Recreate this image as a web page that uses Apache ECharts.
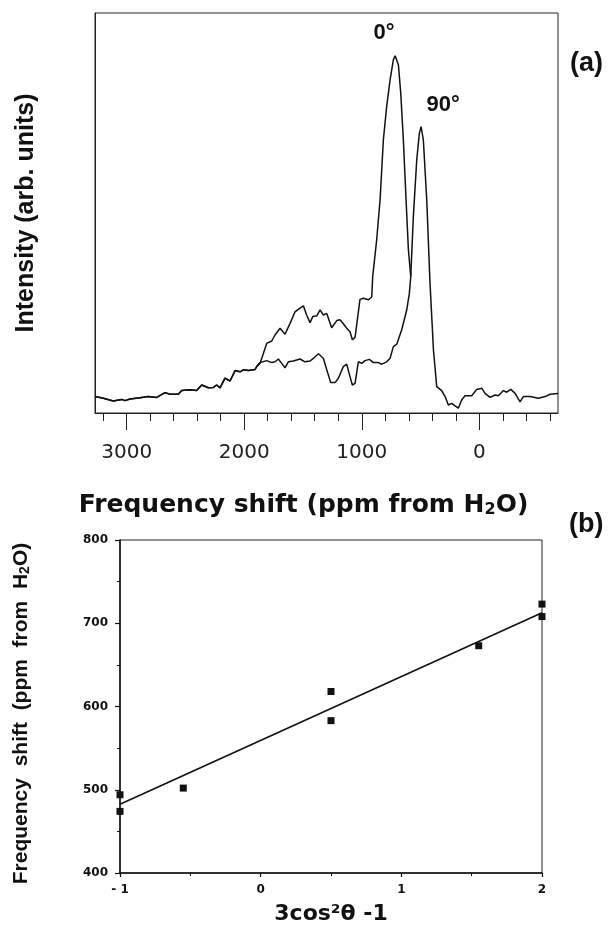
<!DOCTYPE html>
<html>
<head>
<meta charset="utf-8">
<script src="https://cdn.jsdelivr.net/npm/echarts@6/dist/echarts.min.js"></script>
<style>html,body{margin:0;padding:0;background:#fff}#c{width:608px;height:926px}</style>
</head>
<body>
<div id="c"></div>
<script>
// ---- Panel (a): NMR spectra (shift in ppm from H2O, intensity in arb. units) ----
// common low-field baseline shared by both spectra
const baseShift = [3270,3199,3114,3043,3015,2972,2887,2816,2745,2674,2632,2561,2532,2461,2405,2362,2305,2263,2235,2206,2164,2121,2078,2036,2008,1965,1908,1894];
const baseInt   = [4.1,3.7,3.0,3.4,3.1,3.5,3.8,4.1,3.9,5.1,4.7,4.7,5.6,5.8,5.6,7.0,6.3,6.4,7.0,6.3,8.7,8.0,10.6,10.3,10.8,10.6,10.9,11.6];
// 0 degree spectrum (continues from baseline)
const shift0 = [1866,1809,1766,1738,1695,1653,1610,1568,1540,1497,1469,1440,1417,1383,1355,1327,1298,1256,1213,1185,1157,1128,1100,1080,1057,1015,986,944,915,907,873,844,816,788,759,731,716,688,668,646,623,603,583];
const int0   = [12.4,17.4,18.0,19.5,21.2,19.7,22.4,25.3,25.9,26.8,24.5,22.6,24.1,24.3,25.8,24.5,24.9,21.3,23.1,23.3,22.3,21.2,20.3,18.3,18.9,28.4,28.7,28.3,29.0,34.1,43.3,53.3,68.3,76.6,83.3,88.3,89.3,87.0,79.9,68.3,53.3,40.8,34.1];
// 90 degree spectrum (continues from baseline)
const shift90 = [1866,1809,1766,1738,1710,1681,1653,1625,1582,1525,1483,1440,1406,1369,1327,1298,1264,1227,1199,1157,1128,1100,1080,1057,1029,1000,972,935,901,859,830,788,759,731,702,660,617,595,583,561,532,510,495,476,447,419,390,362,320,291,263,234,206,178,149,121,64,22,-21,-49,-92,-134,-163,-205,-234,-268,-305,-347,-375,-432,-503,-560,-603,-670];
const int90   = [12.6,13.1,12.6,12.8,13.5,12.4,11.3,12.8,13.0,13.5,12.8,13.0,13.8,14.8,13.7,10.8,7.6,7.6,8.7,11.6,12.2,9.1,7.0,7.4,12.8,12.4,13.1,13.4,12.6,12.6,12.2,12.8,13.7,16.6,17.2,20.8,25.8,29.9,34.1,49.1,63.3,69.9,71.6,68.3,53.3,32.4,15.8,6.6,5.6,4.1,2.0,2.4,1.8,1.2,3.3,4.3,4.3,5.9,6.2,4.9,3.9,4.5,4.3,5.6,5.2,5.9,4.9,2.8,4.1,4.1,3.7,4.1,4.7,4.9];
const majorTicksA = [3000, 2000, 1000, 0];
const minorTicksA = [3200,3000,2800,2600,2400,2200,2000,1800,1600,1400,1200,1000,800,600,400,200,0,-200,-400,-600];
const peakLabels = [{text:'0°', at:[810, 95]}, {text:'90°', at:[308, 77]}];

// ---- Panel (b): shift vs 3cos^2(theta)-1 ----
const angleFactor = [-1, -1, -0.55, 0.5, 0.5, 1.55, 2, 2];
const shiftPpm    = [494, 474, 502, 618, 583, 673, 723, 708];
const fitX = [-1, 2];
const fitY = [482.5, 712.7];

const zip = (a, b) => a.map((v, i) => [v, b[i]]);
const trace0 = zip(baseShift.concat(shift0), baseInt.concat(int0));
const trace90 = zip(baseShift.concat(shift90), baseInt.concat(int90));

const ink = '#111';
const chart = echarts.init(document.getElementById('c'), null, {renderer: 'canvas'});

const subRich = (size, family) => ({
  t: {fontFamily: family, fontWeight: 'bold', fontSize: size, color: ink},
  s: {fontFamily: family, fontWeight: 'bold', fontSize: Math.round(size * 0.65), color: ink, padding: [Math.round(size * 0.4), 0, 0, 0]}
});

chart.setOption({
  animation: false,
  backgroundColor: '#fff',
  grid: [
    {left: 95, top: 13, width: 463, height: 400, show: true, borderColor: '#222', borderWidth: 1},
    {left: 120, top: 540, width: 422, height: 336, show: true, borderColor: '#222', borderWidth: 1}
  ],
  xAxis: [
    {
      type: 'value', gridIndex: 0, min: -670, max: 3270, inverse: true, position: 'bottom',
      axisLine: {show: true, onZero: false, lineStyle: {color: '#222', width: 1}},
      axisTick: {show: true, customValues: majorTicksA, length: 17, lineStyle: {color: '#222', width: 1}},
      axisLabel: {show: true, customValues: majorTicksA, margin: 30, fontFamily: 'DejaVu Sans', fontSize: 20, color: '#222',
        formatter: v => String(v)},
      splitLine: {show: false},
      name: '{t|Frequency shift (ppm from H}{s|2}{t|O)}',
      nameLocation: 'middle', nameGap: 79,
      nameTextStyle: {rich: subRich(25, 'DejaVu Sans'), padding: [0, 46, 0, 0]}
    },
    {
      type: 'value', gridIndex: 0, min: -670, max: 3270, inverse: true, position: 'bottom',
      axisLine: {show: false, onZero: false},
      axisTick: {show: true, customValues: minorTicksA, length: 8, lineStyle: {color: '#222', width: 1}},
      axisLabel: {show: false},
      splitLine: {show: false}
    },
    {
      type: 'value', gridIndex: 1, min: -1, max: 2, interval: 1,
      axisLine: {show: true, onZero: false, lineStyle: {color: ink, width: 1.5}},
      axisTick: {show: true, length: 4, lineStyle: {color: ink, width: 1.2}},
      minorTick: {show: true, splitNumber: 2, length: 3, lineStyle: {color: ink, width: 1}},
      axisLabel: {margin: 11, fontFamily: 'DejaVu Sans', fontWeight: 'bold', fontSize: 12, color: ink,
        formatter: v => (v < 0 ? '- ' + Math.abs(v) : String(v))},
      splitLine: {show: false},
      name: '3cos²θ -1', nameLocation: 'middle', nameGap: 30,
      nameTextStyle: {fontFamily: 'DejaVu Sans', fontWeight: 'bold', fontSize: 22, color: ink}
    }
  ],
  yAxis: [
    {
      type: 'value', gridIndex: 0, min: 0, max: 100,
      axisLine: {show: true, onZero: false, lineStyle: {color: '#222', width: 1}},
      axisTick: {show: false}, axisLabel: {show: false}, splitLine: {show: false},
      name: 'Intensity (arb. units)', nameLocation: 'middle', nameGap: 56,
      nameTextStyle: {fontFamily: 'Liberation Sans', fontWeight: 'bold', fontSize: 25, color: ink}
    },
    {
      type: 'value', gridIndex: 1, min: 400, max: 800, interval: 100,
      axisLine: {show: true, onZero: false, lineStyle: {color: ink, width: 1.5}},
      axisTick: {show: true, length: 5, lineStyle: {color: ink, width: 1.2}},
      minorTick: {show: true, splitNumber: 2, length: 3, lineStyle: {color: ink, width: 1}},
      axisLabel: {margin: 12, fontFamily: 'DejaVu Sans', fontWeight: 'bold', fontSize: 12, color: ink},
      splitLine: {show: false},
      name: '{t|Frequency  shift  (ppm  from  H}{s|2}{t|O)}',
      nameLocation: 'middle', nameGap: 88,
      nameTextStyle: {rich: subRich(21, 'Liberation Sans'), padding: [0, 14, 0, 0]}
    }
  ],
  series: [
    {
      type: 'line', xAxisIndex: 0, yAxisIndex: 0, data: trace0, showSymbol: false, symbol: 'none',
      lineStyle: {color: ink, width: 1.5}, smooth: false,
      markPoint: {symbol: 'circle', symbolSize: 0, silent: true,
        label: {show: true, position: 'inside', fontFamily: 'Liberation Sans', fontWeight: 'bold', fontSize: 22, color: ink, formatter: p => p.name},
        data: peakLabels.map(p => ({name: p.text, coord: p.at}))}
    },
    {
      type: 'line', xAxisIndex: 0, yAxisIndex: 0, data: trace90, showSymbol: false, symbol: 'none',
      lineStyle: {color: ink, width: 1.5}, smooth: false
    },
    {
      type: 'line', xAxisIndex: 2, yAxisIndex: 1, data: zip(fitX, fitY), showSymbol: false, symbol: 'none',
      lineStyle: {color: ink, width: 1.6}
    },
    {
      type: 'scatter', xAxisIndex: 2, yAxisIndex: 1, data: zip(angleFactor, shiftPpm),
      symbol: 'rect', symbolSize: 7, itemStyle: {color: ink, opacity: 1}
    }
  ],
  graphic: [
    {type: 'text', left: 570, top: 50, style: {text: '(a)', fontFamily: 'Liberation Sans', fontWeight: 'bold', fontSize: 27, fill: ink}},
    {type: 'text', left: 569, top: 511, style: {text: '(b)', fontFamily: 'Liberation Sans', fontWeight: 'bold', fontSize: 27, fill: ink}}
  ]
});
</script>
</body>
</html>
